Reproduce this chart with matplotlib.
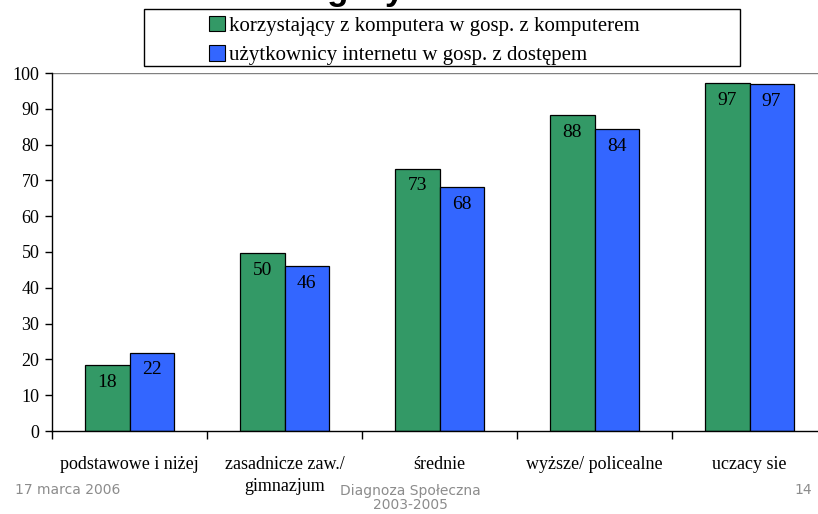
import numpy as np
import matplotlib
matplotlib.use('Agg')
import matplotlib.pyplot as plt
from matplotlib.patches import Patch, Rectangle

# Data
categories = ['podstawowe i niżej', 'zasadnicze zaw./\ngimnazjum', 'średnie',
              'wyższe/ policealne', 'uczacy sie']
komputer = [18.3, 49.6, 73.3, 88.2, 97.2]
internet = [21.9, 46.0, 68.2, 84.4, 97.0]
series_names = ['korzystający z komputera w gosp. z komputerem',
                'użytkownicy internetu w gosp. z dostępem']
yticks = [0, 10, 20, 30, 40, 50, 60, 70, 80, 90, 100]

green = '#339966'
blue = '#3366FF'
serif = 'Liberation Serif'

fig = plt.figure(figsize=(8.18, 5.14), dpi=100)
W, H = 818, 514
ax = fig.add_axes([52 / W, 83 / H, 775 / W, 358 / H])

x = np.arange(len(categories))
bw = 0.284
b1 = ax.bar(x - bw / 2, komputer, bw, color=green, edgecolor='black', linewidth=0.9)
b2 = ax.bar(x + bw / 2, internet, bw, color=blue, edgecolor='black', linewidth=0.9)

# value labels inside bar tops
for bars, vals in [(b1, komputer), (b2, internet)]:
    for rect, v in zip(bars, vals):
        ax.annotate(f'{v:.0f}', (rect.get_x() + rect.get_width() / 2, v),
                    xytext=(0, -12.5), textcoords='offset points',
                    ha='center', va='center', fontsize=14, family=serif)

ax.set_xlim(-0.5, len(categories) - 0.5)
ax.set_ylim(0, 100)
ax.axhline(100, color='#808080', linewidth=1, zorder=0)

for s in ['top', 'right']:
    ax.spines[s].set_visible(False)
ax.spines['left'].set_linewidth(1)
ax.spines['bottom'].set_linewidth(1)

ax.set_yticks(yticks)
ax.set_yticklabels([str(v) for v in yticks], fontsize=13, family=serif)
ax.tick_params(axis='y', direction='out', length=5, width=1, pad=4)

ax.set_xticks(x)
ax.set_xticklabels(categories, fontsize=13, family=serif, linespacing=1.35)
ax.tick_params(axis='x', which='major', length=0, pad=18)
ax.set_xticks(np.arange(len(categories) + 1) - 0.5, minor=True)
ax.tick_params(axis='x', which='minor', direction='out', length=6, width=1)

# legend box and entries
fig.patches.append(Rectangle((144 / W, 1 - 66 / H), (740 - 144) / W, 57 / H,
                             transform=fig.transFigure, facecolor='white',
                             edgecolor='black', linewidth=1))
handles = [Patch(facecolor=green, edgecolor='black', linewidth=0.8),
           Patch(facecolor=blue, edgecolor='black', linewidth=0.8)]
leg = fig.legend(handles, series_names, loc='upper left',
                 bbox_to_anchor=(207 / W, 1 - 14 / H),
                 prop={'family': serif, 'size': 15},
                 frameon=False, handlelength=0.75, handleheight=0.75,
                 handletextpad=0.2, labelspacing=0.45, borderpad=0.1,
                 borderaxespad=0)

# clipped slide title
fig.text(0.5, 1.0, 'według wykształcenia', ha='center', va='baseline',
         fontsize=25, fontweight='bold', family='Liberation Sans')

# slide footer
fig.text(15 / W, 1 - 490 / H, '17 marca 2006', ha='left', va='center',
         fontsize=10, color='#8c8c8c', family='DejaVu Sans')
fig.text(410 / W, 1 - 498 / H, 'Diagnoza Społeczna\n2003-2005', ha='center', va='center',
         fontsize=10, color='#8c8c8c', family='DejaVu Sans', linespacing=1.05)
fig.text(812 / W, 1 - 490 / H, '14', ha='right', va='center',
         fontsize=10, color='#8c8c8c', family='DejaVu Sans')

fig.savefig('out.png', dpi=100)
